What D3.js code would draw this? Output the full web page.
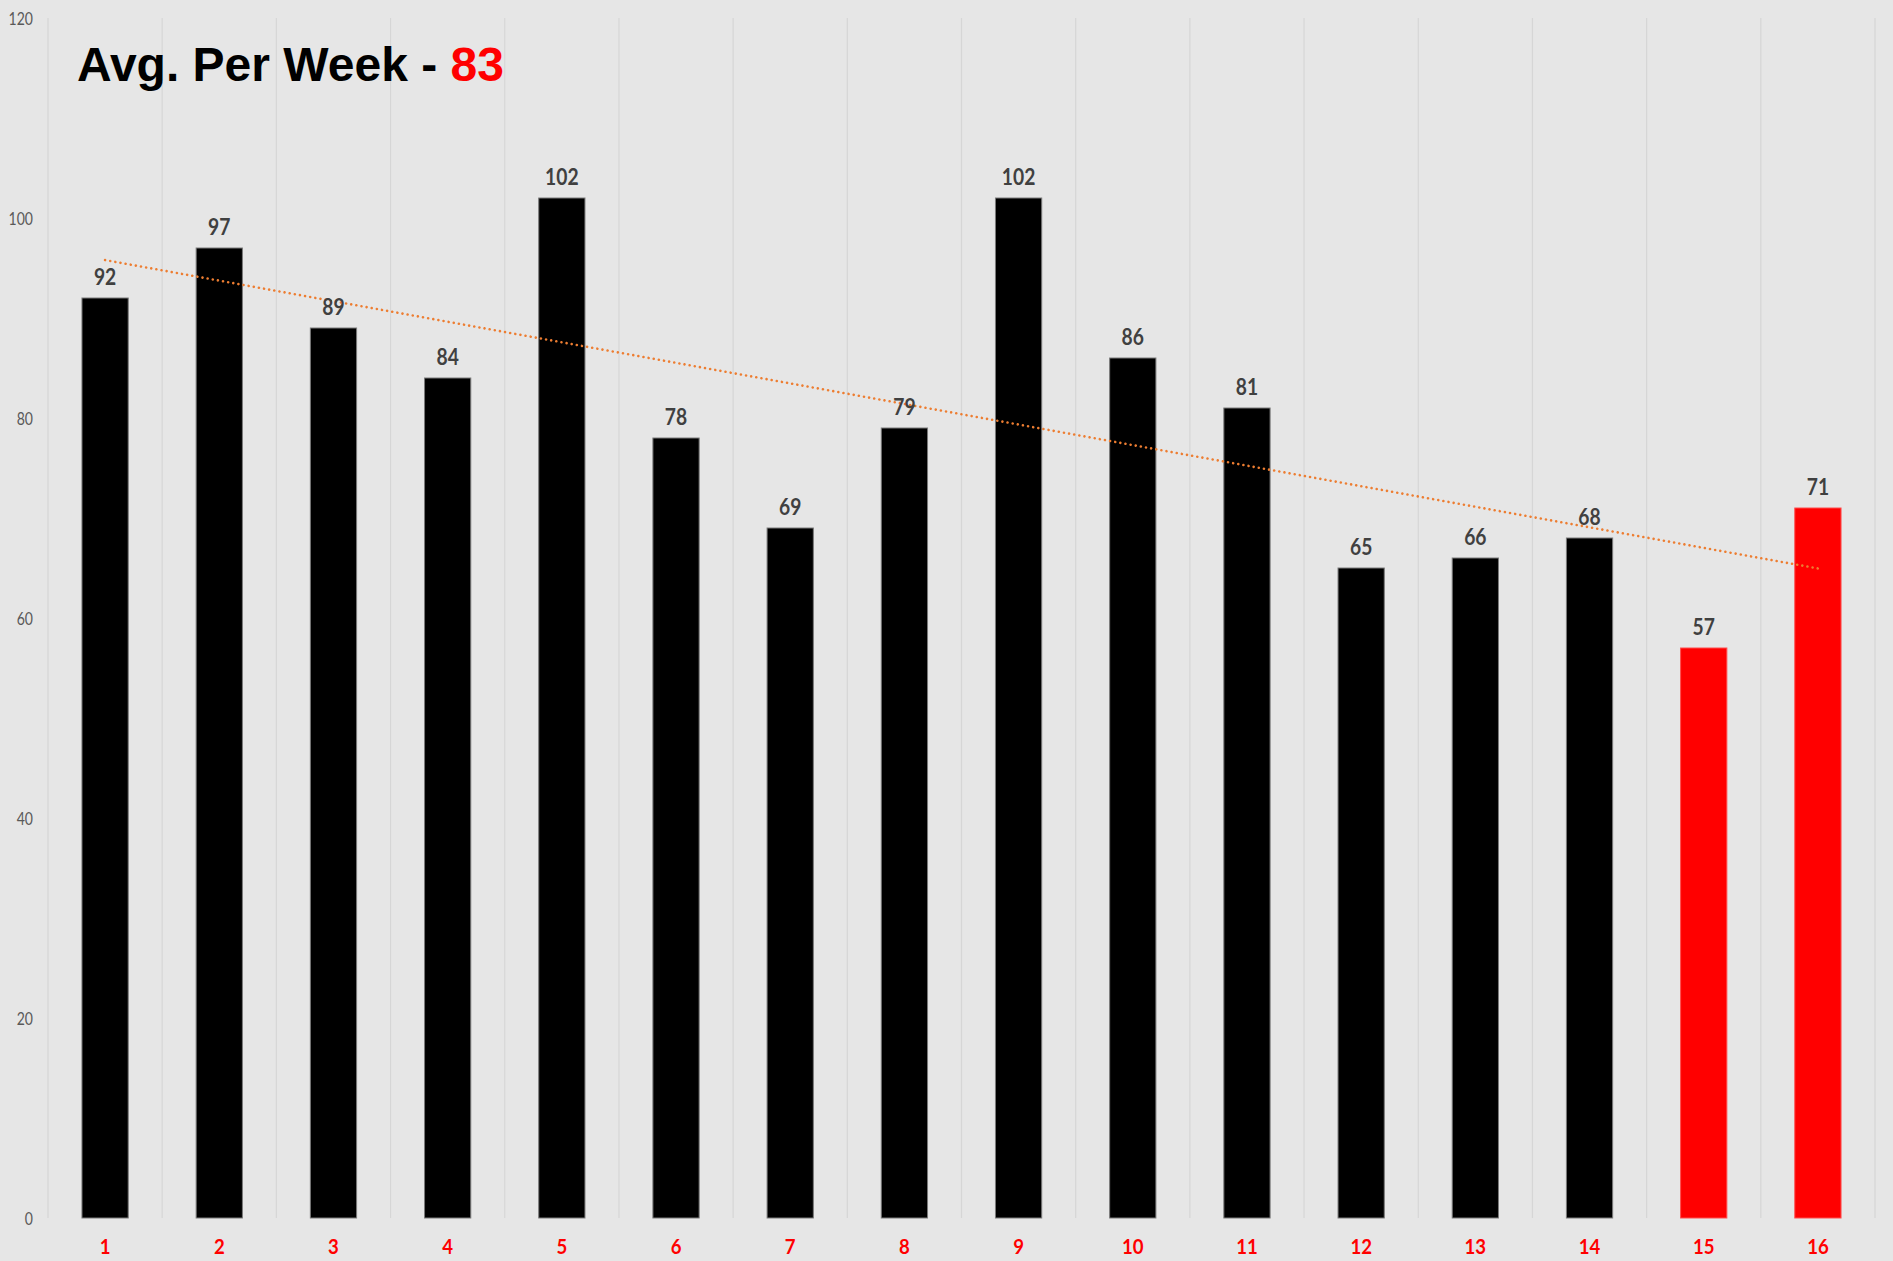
<!DOCTYPE html>
<html>
<head>
<meta charset="utf-8">
<script src="https://cdn.jsdelivr.net/npm/d3@7"></script>
<style>
  html, body { margin: 0; padding: 0; background: #e6e6e6; }
  svg { display: block; }
</style>
</head>
<body>
<svg id="chart" width="1893" height="1261"></svg>
<script>
// weekly counts
const weeks = ["1","2","3","4","5","6","7","8","9","10","11","12","13","14","15","16"];
const counts = [92, 97, 89, 84, 102, 78, 69, 79, 102, 86, 81, 65, 66, 68, 57, 71];
const highlightWeeks = ["15", "16"];
const yTicks = [0, 20, 40, 60, 80, 100, 120];
const titleText = "Avg. Per Week - ";
const titleValue = "83";

const svg = d3.select("#chart");
const W = 1893, H = 1261;
const plot = {left: 48, right: 1875, top: 18, bottom: 1218};

svg.append("rect").attr("width", W).attr("height", H).attr("fill", "#e6e6e6");

const x = d3.scaleBand().domain(weeks).range([plot.left, plot.right]).padding(0);
const y = d3.scaleLinear().domain([0, 120]).range([plot.bottom, plot.top]);
const barW = x.step() * 0.405;

// vertical gridlines on category boundaries
const bounds = weeks.map(w => x(w)).concat([plot.right]);
svg.append("g").selectAll("line").data(bounds).join("line")
    .attr("x1", d => d).attr("x2", d => d)
    .attr("y1", y(120)).attr("y2", y(0))
    .attr("stroke", "#d6d6d6").attr("stroke-width", 1.2);

// y axis labels
const yAxis = svg.append("g")
    .attr("transform", `translate(${plot.left},0)`)
    .call(d3.axisLeft(y).tickValues(yTicks).tickSize(0).tickPadding(0));
yAxis.select(".domain").remove();
yAxis.selectAll("text")
    .attr("x", -15 / 0.78)
    .attr("dy", "0.34em")
    .attr("transform", "scale(0.78,1)")
    .attr("fill", "#595959")
    .attr("font-family", "Lato, 'Open Sans', sans-serif")
    .attr("font-size", "18px");

const isRed = w => highlightWeeks.includes(w);

// bars
svg.append("g").selectAll("rect").data(weeks).join("rect")
    .attr("x", w => x(w) + x.bandwidth() / 2 - barW / 2)
    .attr("y", (w, i) => y(counts[i]))
    .attr("width", barW)
    .attr("height", (w, i) => y(0) - y(counts[i]))
    .attr("fill", w => isRed(w) ? "#ff0000" : "#000000")
    .attr("stroke", w => isRed(w) ? "#ff4d4d" : "#7a7a7a")
    .attr("stroke-width", 1);

// linear trendline
const xs = counts.map((v, i) => i + 1);
const mx = d3.mean(xs), my = d3.mean(counts);
const slope = d3.sum(xs, (v, i) => (v - mx) * (counts[i] - my)) / d3.sum(xs, v => (v - mx) * (v - mx));
const trend = xs.map(v => my + slope * (v - mx));
const cx = w => x(w) + x.bandwidth() / 2;
svg.append("path")
    .datum([0, weeks.length - 1])
    .attr("d", d3.line().x(i => cx(weeks[i])).y(i => y(trend[i])))
    .attr("fill", "none")
    .attr("stroke", "#ED7D31")
    .attr("stroke-width", 2.6)
    .attr("stroke-linecap", "round")
    .attr("stroke-dasharray", "0.01 5.2");

// data labels
svg.append("g").selectAll("text").data(weeks).join("text")
    .attr("transform", (w, i) => `translate(${cx(w)},${y(counts[i]) - 13}) scale(0.82,1)`)
    .attr("text-anchor", "middle")
    .attr("fill", "#404040")
    .attr("font-family", "Lato, 'Open Sans', sans-serif")
    .attr("font-weight", 700)
    .attr("font-size", "23.5px")
    .text((w, i) => counts[i]);

// x labels
svg.append("g").selectAll("text").data(weeks).join("text")
    .attr("transform", w => `translate(${cx(w)},1254) scale(0.93,1)`)
    .attr("text-anchor", "middle")
    .attr("fill", "#ff0000")
    .attr("font-family", "Lato, 'Open Sans', sans-serif")
    .attr("font-weight", 700)
    .attr("font-size", "20px")
    .text(w => w);

// title
const title = svg.append("text")
    .attr("x", 77).attr("y", 81)
    .attr("font-family", "'Liberation Sans', Arial, sans-serif")
    .attr("font-weight", 700)
    .attr("font-size", "48px")
    .attr("fill", "#000000")
    .attr("xml:space", "preserve");
title.append("tspan").text(titleText);
title.append("tspan").attr("fill", "#ff0000").text(titleValue);
</script>
</body>
</html>
